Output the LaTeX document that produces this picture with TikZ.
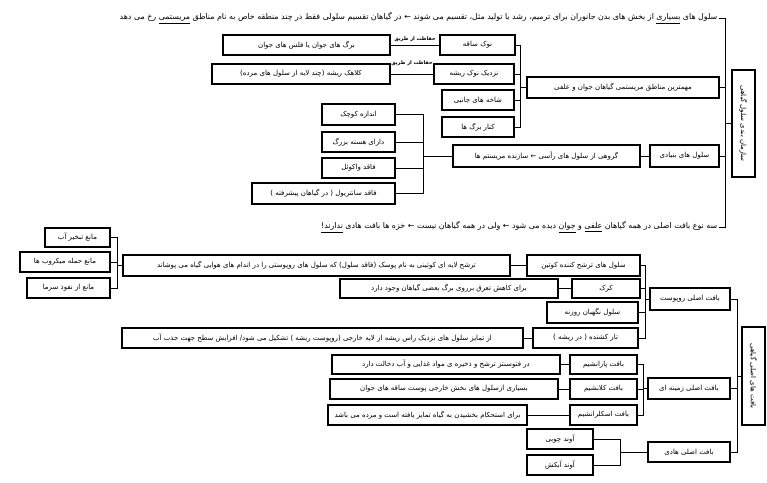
\documentclass[tikz,border=0pt]{standalone}
\usepackage{fontspec}
\newfontfamily\fafont[Script=Arabic]{DejaVu Sans}
\TeXXeTstate=1
\newcommand{\fa}[1]{\beginR #1\endR}

\begin{document}
\begin{tikzpicture}[x=1pt, y=-1pt,
  font=\fafont\fontsize{7}{8.5}\selectfont,
  cell/.style={draw, line width=1.1pt, inner sep=1pt, minimum height=20pt},
  vcell/.style={cell, rotate=-90, minimum height=23pt},
  spine/.style={line width=1pt},
  plain/.style={inner sep=1.5pt, font=\fafont\fontsize{7.9}{9}\selectfont},
  via/.style={inner sep=0pt, font=\fafont\fontsize{5}{6}\selectfont\bfseries}
]
\useasboundingbox (0,0) rectangle (767,482);

\node[vcell, minimum width=107pt] (sazman) at (743.5,123.5) {\fa{سازمان بندی سلول گیاهی}};
\node[plain, anchor=east] (topline) at (719,18) {\fa{سلول های \underline{بسیاری} از بخش های بدن جانوران برای ترمیم، رشد یا تولید مثل، تقسیم می شوند ← در گیاهان تقسیم سلولی فقط در چند منطقه خاص به نام مناطق \underline{مریستمی} رخ می دهد}};
\node[plain, anchor=east] (bottomline) at (719,227) {\fa{سه نوع بافت اصلی در همه گیاهان \underline{علفی} و \underline{جوان} دیده می شود ← ولی در همه گیاهان نیست ← خزه ها بافت هادی \underline{ندارند!}}};

\node[cell, minimum width=192pt, minimum height=21pt] (mohem) at (623,87.5) {\fa{مهمترین مناطق مریستمی گیاهان جوان و علفی}};
\node[cell, minimum width=75pt] (noksaqe) at (477.5,45) {\fa{نوک ساقه}};
\node[cell, minimum width=80pt] (nazdik) at (474,74) {\fa{نزدیک نوک ریشه}};
\node[cell, minimum width=72pt] (shakhe) at (478,100) {\fa{شاخه های جانبی}};
\node[cell, minimum width=72pt] (kenar) at (478,127) {\fa{کنار برگ ها}};
\node[cell, minimum width=167pt] (barg) at (306.5,45) {\fa{برگ های جوان یا فلس های جوان}};
\node[cell, minimum width=178pt] (kolahak) at (301,74) {\fa{کلاهک ریشه (چند لایه از سلول های مرده)}};

\node[cell, minimum width=69pt, minimum height=22pt] (bonyadi) at (684.5,156) {\fa{سلول های بنیادی}};
\node[cell, minimum width=187pt, minimum height=22pt] (goruhi) at (546.5,156) {\fa{گروهی از سلول های رأسی ← سازنده مریستم ها}};
\node[cell, minimum width=73pt, minimum height=21pt] (andaze) at (358.5,114.5) {\fa{اندازه کوچک}};
\node[cell, minimum width=73pt] (haste) at (358.5,142) {\fa{دارای هسته بزرگ}};
\node[cell, minimum width=73pt] (vakuol) at (358.5,168) {\fa{فاقد واکوئل}};
\node[cell, minimum width=143pt, minimum height=21pt] (santriol) at (323.5,193.5) {\fa{فاقد سانتریول ( در گیاهان پیشرفته )}};

\node[vcell, minimum width=98pt] (asli) at (753.5,376) {\fa{بافت های اصلی گیاهی}};
\node[cell, minimum width=80pt, minimum height=22pt] (rupust) at (690,299) {\fa{بافت اصلی روپوست}};
\node[cell, minimum width=82pt, minimum height=21pt] (zamine) at (689,388.5) {\fa{بافت اصلی زمینه ای}};
\node[cell, minimum width=82pt] (hadi) at (689,452) {\fa{بافت اصلی هادی}};

\node[cell, minimum width=113pt, minimum height=21pt] (kutin) at (583.5,265.5) {\fa{سلول های ترشح کننده کوتین}};
\node[cell, minimum width=387pt, minimum height=21pt] (pusak) at (316.5,265.5) {\fa{ترشح لایه ای کوتینی به نام پوسک (فاقد سلول) که سلول های روپوستی را در اندام های هوایی گیاه می پوشاند}};
\node[cell, minimum width=65pt, minimum height=19pt] (tabkhir) at (77.5,237.5) {\fa{مانع تبخیر آب}};
\node[cell, minimum width=90pt] (hamle) at (65,262) {\fa{مانع حمله میکروب ها}};
\node[cell, minimum width=83pt] (nofuz) at (68.5,288) {\fa{مانع از نفوذ سرما}};
\node[cell, minimum width=68pt, minimum height=19pt] (kork) at (606,288.5) {\fa{کرک}};
\node[cell, minimum width=218pt, minimum height=19pt] (korkdesc) at (449,288.5) {\fa{برای کاهش تعرق برروی برگ بعضی گیاهان وجود دارد}};
\node[cell, minimum width=91pt, minimum height=21pt] (negahban) at (592.5,312.5) {\fa{سلول نگهبان روزنه}};
\node[cell, minimum width=105pt] (tar) at (585.5,338) {\fa{تار کشنده ( در ریشه )}};
\node[cell, minimum width=401pt] (tardesc) at (322.5,338) {\fa{از تمایز سلول های نزدیک راس ریشه از لایه خارجی (روپوست ریشه ) تشکیل می شود/ افزایش سطح جهت جذب آب}};

\node[cell, minimum width=67pt, minimum height=19pt] (parenshim) at (603.5,364.5) {\fa{بافت پارانشیم}};
\node[cell, minimum width=228pt, minimum height=19pt] (parendesc) at (446,364.5) {\fa{در فتوسنتز ترشح و ذخیره ی مواد غذایی و آب دخالت دارد}};
\node[cell, minimum width=67pt] (kolanshim) at (603.5,389) {\fa{بافت کلانشیم}};
\node[cell, minimum width=228pt] (kolandesc) at (444,389) {\fa{بسیاری ازسلول های بخش خارجی پوست ساقه های جوان}};
\node[cell, minimum width=67pt] (eskleranshim) at (603.5,415) {\fa{بافت اسکلرانشیم}};
\node[cell, minimum width=199pt] (eskledesc) at (427.5,415) {\fa{برای استحکام بخشیدن به گیاه تمایز یافته است و مرده می باشد}};
\node[cell, minimum width=66pt] (chubi) at (560,439) {\fa{آوند چوبی}};
\node[cell, minimum width=66pt] (abkesh) at (560,465) {\fa{آوند آبکش}};

\coordinate (j0) at (725,123.5);
\coordinate (j1) at (520,87.5);
\coordinate (j2) at (423,156);
\coordinate (j3) at (737,376);
\coordinate (j4) at (645,299);
\coordinate (j5) at (117,265.5);
\coordinate (j6) at (643,388.5);
\coordinate (j7) at (620,452);

\draw[spine] (topline.east) -| (j0) -- (sazman.south);
\draw[spine] (mohem.east) -| (j0);
\draw[spine] (bonyadi.east) -| (j0);
\draw[spine] (bottomline.east) -| (j0);

\draw[spine] (noksaqe.east) -| (j1) -- (mohem.west);
\draw[spine] (nazdik.east) -| (j1);
\draw[spine] (shakhe.east) -| (j1);
\draw[spine] (kenar.east) -| (j1);
\draw[spine] (barg.east) -- (noksaqe.west) node[via, midway, above=3pt] {\fa{حفاظت از طریق}};
\draw[spine] (kolahak.east) -- (nazdik.west) node[via, midway, above=8pt] {\fa{حفاظت از طریق}};

\draw[spine] (goruhi.east) -- (bonyadi.west);
\draw[spine] (andaze.east) -| (j2) -- (goruhi.west);
\draw[spine] (haste.east) -| (j2);
\draw[spine] (vakuol.east) -| (j2);
\draw[spine] (santriol.east) -| (j2);

\draw[spine] (rupust.east) -| (j3) -- (asli.south);
\draw[spine] (zamine.east) -| (j3);
\draw[spine] (hadi.east) -| (j3);

\draw[spine] (kutin.east) -| (j4) -- (rupust.west);
\draw[spine] (kork.east) -| (j4);
\draw[spine] (negahban.east) -| (j4);
\draw[spine] (tar.east) -| (j4);
\draw[spine] (pusak.east) -- (kutin.west);
\draw[spine] (korkdesc.east) -- (kork.west);
\draw[spine] (tardesc.east) -- (tar.west);
\draw[spine] (tabkhir.east) -| (j5) -- (pusak.west);
\draw[spine] (hamle.east) -| (j5);
\draw[spine] (nofuz.east) -| (j5);

\draw[spine] (parenshim.east) -| (j6) -- (zamine.west);
\draw[spine] (kolanshim.east) -| (j6);
\draw[spine] (eskleranshim.east) -| (j6);
\draw[spine] (parendesc.east) -- (parenshim.west);
\draw[spine] (kolandesc.east) -- (kolanshim.west);
\draw[spine] (eskledesc.east) -- (eskleranshim.west);

\draw[spine] (chubi.east) -| (j7) -- (hadi.west);
\draw[spine] (abkesh.east) -| (j7);
\end{tikzpicture}
\end{document}
